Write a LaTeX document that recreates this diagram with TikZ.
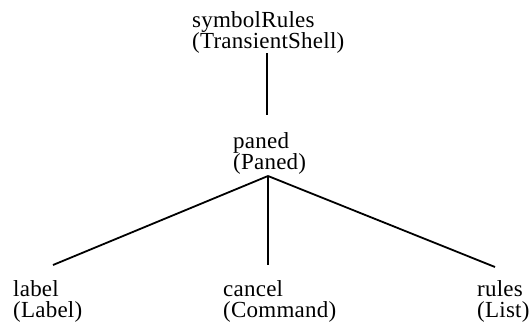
\documentclass[tikz,border=0pt]{standalone}
\usepackage{fontspec}
\setmainfont[LetterSpace=1]{Liberation Serif}
\tikzset{
  widget/.style={anchor=base west,align=left,inner sep=0pt,
    font=\fontsize{23}{21}\selectfont},
  link/.style={line width=1.8pt}
}
\begin{document}
\begin{tikzpicture}[x=1pt,y=-1pt]
\useasboundingbox (0,0) rectangle (530,322);
% widget tree (base is the class line)
\node[widget] (shell) at (192,48) {symbolRules\\(TransientShell)};
\node[widget] (paned) at (233,169) {paned\\(Paned)};
\node[widget] (label) at (13,317) {label\\(Label)};
\node[widget] (cancel) at (223,317) {cancel\\(Command)};
\node[widget] (rules) at (477,317) {rules\\(List)};
% ends of the branches
\coordinate (shelltail) at (267,53);
\coordinate (panedhead) at (267,115);
\coordinate (fork) at (268,176);
\coordinate (labelhead) at (53,265);
\coordinate (cancelhead) at (268,265);
\coordinate (ruleshead) at (495,267);
\draw[link] (shelltail) -- (panedhead);
\draw[link] (fork) -- (labelhead);
\draw[link] (fork) -- (cancelhead);
\draw[link] (fork) -- (ruleshead);
\end{tikzpicture}
\end{document}
